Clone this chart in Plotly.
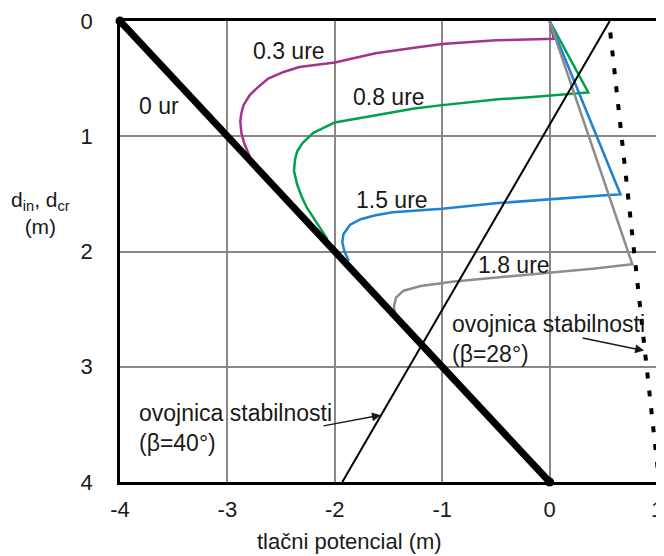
import plotly.graph_objects as go

# ---- data ----
x_ticks = [-4, -3, -2, -1, 0, 1]
y_ticks = [0, 1, 2, 3, 4]

ur0_x = [-4, 0]
ur0_y = [0, 4]

beta40_x = [-1.93, 0.56]
beta40_y = [4, 0]

beta28_x = [0.565, 1.02]
beta28_y = [0.1, 4]

ure03_x = [0, 0.04, -0.5, -1.0, -1.26, -1.62, -2.0, -2.33, -2.47, -2.62, -2.71, -2.79, -2.85, -2.87, -2.88, -2.87, -2.84, -2.79, -2.73]
ure03_y = [0, 0.155, 0.168, 0.2, 0.233, 0.28, 0.36, 0.40, 0.44, 0.5, 0.57, 0.64, 0.73, 0.8, 0.87, 0.97, 1.07, 1.18, 1.28]

ure08_x = [0, 0.36, -0.16, -0.48, -1.0, -1.26, -2.0, -2.2, -2.3, -2.35, -2.37, -2.38, -2.35, -2.31, -2.26, -2.14, -2.07]
ure08_y = [0, 0.62, 0.66, 0.68, 0.73, 0.76, 0.88, 0.97, 1.06, 1.13, 1.2, 1.3, 1.42, 1.52, 1.62, 1.79, 1.89]

ure15_x = [0, 0.66, 0.55, -0.48, -1.0, -1.46, -1.62, -1.76, -1.86, -1.92, -1.93, -1.91, -1.87]
ure15_y = [0, 1.505, 1.51, 1.58, 1.63, 1.66, 1.685, 1.72, 1.77, 1.85, 1.92, 2.0, 2.08]

ure18_x = [0, 0.77, 0.4, 0.03, -0.6, -0.89, -1.2, -1.36, -1.43, -1.45, -1.44]
ure18_y = [0, 2.11, 2.15, 2.18, 2.23, 2.26, 2.3, 2.34, 2.4, 2.48, 2.53]

FONT = "Arial, Liberation Sans, sans-serif"

# the page body has an 8px margin: figure occupies page pixels 8..664 x 8..556
OFF = 8
PL, PT, PW, PH = 120, 19, 543, 463  # plot area in page pixels


def px_x(p):
    return (p - PL) / PW


def px_y(p):
    return (PT + PH - p) / PH


fig = go.Figure()

fig.add_trace(go.Scatter(x=ure03_x, y=ure03_y, mode="lines",
                         line=dict(color="#A3338F", width=2.5), name="0.3 ure"))
fig.add_trace(go.Scatter(x=ure08_x, y=ure08_y, mode="lines",
                         line=dict(color="#00A14B", width=2.5), name="0.8 ure"))
fig.add_trace(go.Scatter(x=ure15_x, y=ure15_y, mode="lines",
                         line=dict(color="#1C82D4", width=2.5), name="1.5 ure"))
fig.add_trace(go.Scatter(x=ure18_x, y=ure18_y, mode="lines",
                         line=dict(color="#8C8C8C", width=2.5), name="1.8 ure"))
fig.add_trace(go.Scatter(x=beta40_x, y=beta40_y, mode="lines",
                         line=dict(color="black", width=2), name="beta40"))
fig.add_trace(go.Scatter(x=beta28_x, y=beta28_y, mode="lines",
                         line=dict(color="black", width=4, dash="6px,12px"), name="beta28"))
fig.add_trace(go.Scatter(x=ur0_x, y=ur0_y, mode="lines+markers",
                         line=dict(color="black", width=7),
                         marker=dict(color="black", size=9), name="0 ur",
                         cliponaxis=False))

tfont = dict(family=FONT, size=23, color="#1a1a1a")
ann = [
    dict(x=-3.64, y=0.74, text="0 ur"),
    dict(x=-2.43, y=0.26, text="0.3 ure"),
    dict(x=-1.50, y=0.66, text="0.8 ure"),
    dict(x=-1.47, y=1.55, text="1.5 ure"),
    dict(x=-0.33, y=2.12, text="1.8 ure"),
]
annotations = []
for a in ann:
    annotations.append(dict(xref="x", yref="y", showarrow=False, font=tfont,
                            xanchor="center", yanchor="middle", **a))

annotations.append(dict(xref="x", yref="y", x=-0.93, y=2.755, xanchor="left", yanchor="middle",
                        align="left", showarrow=False, font=tfont,
                        text="ovojnica stabilnosti<br>(β=28°)"))
annotations.append(dict(xref="x", yref="y", x=-3.84, y=3.53, xanchor="left", yanchor="middle",
                        align="left", showarrow=False, font=tfont,
                        text="ovojnica stabilnosti<br>(β=40°)"))
# arrows
annotations.append(dict(xref="x", yref="y", x=0.88, y=2.86, ax=-63, ay=-13, text="",
                        showarrow=True, arrowhead=2, arrowsize=1.2, arrowwidth=1.5,
                        arrowcolor="#1a1a1a"))
annotations.append(dict(xref="x", yref="y", x=-1.57, y=3.42, ax=-59, ay=11, text="",
                        showarrow=True, arrowhead=2, arrowsize=1.2, arrowwidth=1.5,
                        arrowcolor="#1a1a1a"))
# axis titles
annotations.append(dict(xref="paper", yref="paper", x=px_x(352), y=px_y(542),
                        xanchor="center", yanchor="middle", showarrow=False,
                        font=dict(family=FONT, size=22, color="#1a1a1a"),
                        text="tlačni potencial (m)"))
annotations.append(dict(xref="paper", yref="paper", x=px_x(40), y=px_y(212),
                        xanchor="center", yanchor="middle", showarrow=False,
                        font=dict(family=FONT, size=21, color="#1a1a1a"),
                        text="d<sub>in</sub>, d<sub>cr</sub><br>(m)"))

fig.update_layout(
    width=664 - OFF, height=556 - OFF,
    margin=dict(l=PL - OFF, r=664 - OFF - (PL - OFF) - PW, t=PT - OFF,
                b=556 - OFF - (PT - OFF) - PH),
    paper_bgcolor="white", plot_bgcolor="white",
    showlegend=False,
    annotations=annotations,
    font=dict(family=FONT, size=22, color="#1a1a1a"),
)
fig.update_xaxes(range=[-4, 1], tickvals=x_ticks, ticktext=[str(v) for v in x_ticks],
                 showgrid=True, gridcolor="#8E8585", gridwidth=1.5,
                 showline=True, linecolor="black", linewidth=2.5, mirror=True,
                 zeroline=False, ticks="", ticklabelstandoff=6,
                 ticklabeloverflow="allow",
                 tickfont=dict(family=FONT, size=22, color="#1a1a1a"))
fig.update_yaxes(range=[4, 0], tickvals=y_ticks, ticktext=[str(v) for v in y_ticks],
                 showgrid=True, gridcolor="#8E8585", gridwidth=1.5,
                 showline=True, linecolor="black", linewidth=2.5, mirror=True,
                 zeroline=False, ticks="", ticklabelstandoff=20,
                 ticklabeloverflow="allow",
                 tickfont=dict(family=FONT, size=22, color="#1a1a1a"))

fig.write_html("out.html")
